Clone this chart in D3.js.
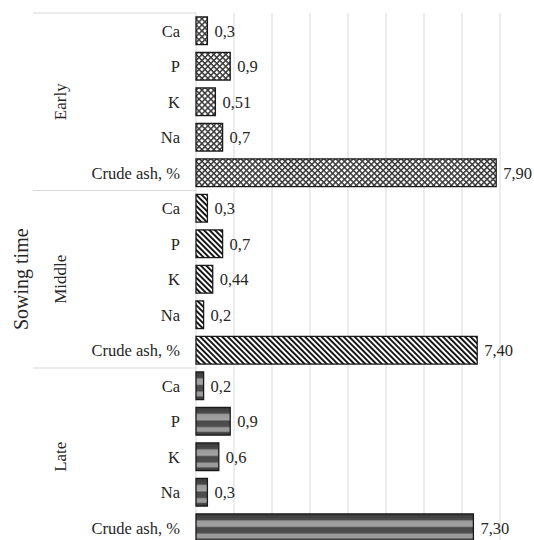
<!DOCTYPE html>
<html>
<head>
<meta charset="utf-8">
<script src="https://cdn.jsdelivr.net/npm/d3@7/dist/d3.min.js"></script>
<style>
  html, body { margin: 0; padding: 0; background: #fff; }
  svg { display: block; }
</style>
</head>
<body>
<div id="chart"></div>
<script>
// ---- data ----
const groups = ["Early", "Middle", "Late"];
const elements = ["Ca", "P", "K", "Na", "Crude ash, %"];
const earlyValues  = [0.3, 0.9, 0.51, 0.7, 7.90];
const middleValues = [0.3, 0.7, 0.44, 0.2, 7.40];
const lateValues   = [0.2, 0.9, 0.6, 0.3, 7.30];
const earlyLabels  = ["0,3", "0,9", "0,51", "0,7", "7,90"];
const middleLabels = ["0,3", "0,7", "0,44", "0,2", "7,40"];
const lateLabels   = ["0,2", "0,9", "0,6", "0,3", "7,30"];
const xTicks = [0, 1, 2, 3, 4, 5, 6, 7, 8];
const axisTitle = "Sowing time";

const seriesValues = [earlyValues, middleValues, lateValues];
const seriesLabels = [earlyLabels, middleLabels, lateLabels];

(function () {
const W = 534, H = 540;
const FONT = "\"Times New Roman\", Times, serif";
const svg = d3.select("#chart").append("svg").attr("width", W).attr("height", H);

const defs = svg.append("defs");
// crosshatch (Early)
const p1 = defs.append("pattern").attr("id", "pat0").attr("patternUnits", "userSpaceOnUse")
  .attr("width", 4.2).attr("height", 4.2).attr("patternTransform", "rotate(45)");
p1.append("rect").attr("width", 4.2).attr("height", 4.2).attr("fill", "#fff");
p1.append("rect").attr("x", 0).attr("y", 0).attr("width", 1.5).attr("height", 4.2).attr("fill", "#3a3a3a");
p1.append("rect").attr("x", 0).attr("y", 0).attr("width", 4.2).attr("height", 1.5).attr("fill", "#3a3a3a");
// downward diagonal stripes (Middle)
const p2 = defs.append("pattern").attr("id", "pat1").attr("patternUnits", "userSpaceOnUse")
  .attr("width", 3.9).attr("height", 10).attr("patternTransform", "rotate(-45)");
p2.append("rect").attr("width", 3.9).attr("height", 10).attr("fill", "#fff");
p2.append("rect").attr("x", 0).attr("y", 0).attr("width", 1.9).attr("height", 10).attr("fill", "#111");
// horizontal banded fill (Late)
const g3 = defs.append("linearGradient").attr("id", "pat2")
  .attr("x1", 0).attr("y1", 0).attr("x2", 0).attr("y2", 1);
[[0, "#3a3a3a"], [0.2, "#4a4a4a"], [0.26, "#9a9a9a"], [0.44, "#a2a2a2"], [0.5, "#4a4a4a"],
 [0.68, "#4e4e4e"], [0.74, "#9a9a9a"], [0.86, "#9a9a9a"], [0.91, "#454545"], [1, "#3a3a3a"]]
  .forEach(s => g3.append("stop").attr("offset", s[0]).attr("stop-color", s[1]));

// ---- scales ----
const rows = [];
groups.forEach((g, gi) => elements.forEach((e, ei) => rows.push({
  key: g + "|" + e, group: g, gi, elem: e,
  value: seriesValues[gi][ei], label: seriesLabels[gi][ei]
})));

const plotTop = 13, rowStep = 35.5;
const plotBottom = plotTop + rows.length * rowStep;
const x = d3.scaleLinear().domain([0, 8]).range([196, 500]);
const y = d3.scaleBand().domain(rows.map(r => r.key))
  .range([plotTop, plotBottom]).paddingInner(0.22).paddingOuter(0.11);

// gridlines
svg.append("g").selectAll("line").data(xTicks).join("line")
  .attr("x1", d => x(d)).attr("x2", d => x(d))
  .attr("y1", plotTop).attr("y2", plotBottom)
  .attr("stroke", "#d9d9d9").attr("stroke-width", 1);

// group separators in label area
const sepY = d3.range(groups.length + 1).map(i => plotTop + i * elements.length * y.step());
svg.append("g").selectAll("line").data(sepY).join("line")
  .attr("x1", 33).attr("x2", x(0)).attr("y1", d => d).attr("y2", d => d)
  .attr("stroke", "#d9d9d9").attr("stroke-width", 1.2);

// bars
svg.append("g").selectAll("rect").data(rows).join("rect")
  .attr("x", x(0)).attr("y", d => y(d.key))
  .attr("width", d => x(d.value) - x(0)).attr("height", y.bandwidth())
  .attr("fill", d => "url(#pat" + d.gi + ")")
  .attr("stroke", "#1a1a1a").attr("stroke-width", 1.3);

const txt = sel => sel.style("font-family", FONT).attr("fill", "#262626");

// value labels
svg.append("g").selectAll("text").data(rows).join("text").call(txt)
  .attr("x", d => x(d.value) + 7).attr("y", d => y(d.key) + y.bandwidth() / 2)
  .attr("dy", "0.35em").attr("font-size", 16.5).text(d => d.label);

// category labels
svg.append("g").selectAll("text").data(rows).join("text").call(txt)
  .attr("x", 180).attr("y", d => y(d.key) + y.bandwidth() / 2)
  .attr("dy", "0.35em").attr("text-anchor", "end").attr("font-size", 16.5).text(d => d.elem);

// group labels
svg.append("g").selectAll("text").data(groups).join("text").call(txt)
  .attr("transform", (g, i) => `translate(66,${(sepY[i] + sepY[i + 1]) / 2}) rotate(-90)`)
  .attr("text-anchor", "middle").attr("font-size", 17).text(d => d);

// axis title
svg.append("text").call(txt)
  .attr("transform", `translate(28,${(plotTop + plotBottom) / 2}) rotate(-90)`)
  .attr("text-anchor", "middle").attr("font-size", 20).text(axisTitle);
})();
</script>
</body>
</html>
